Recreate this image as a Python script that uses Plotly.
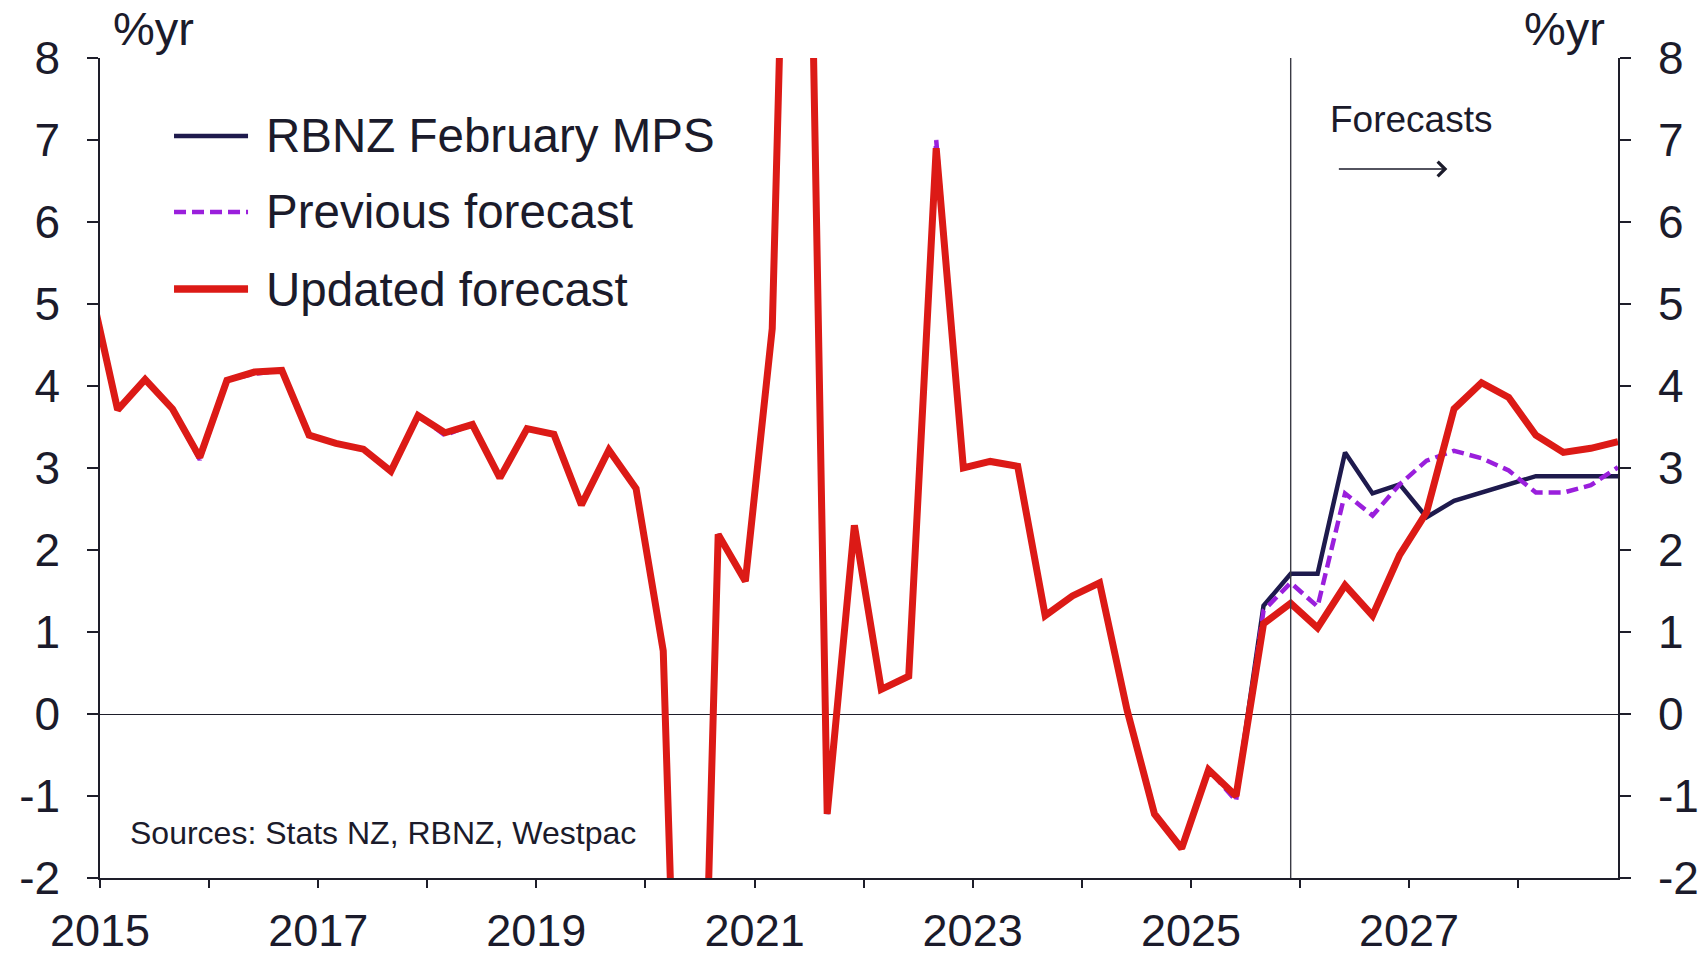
import pandas as pd
import plotly.graph_objects as go

# Quarterly dates (quarter-end month), Dec 2014 .. Dec 2028
quarters = pd.date_range("2014-12-01", "2028-12-01", freq="3MS")

updated_forecast = [5.19,
    3.71, 4.08, 3.72, 3.13,
    4.07, 4.17, 4.19, 3.40,
    3.30, 3.23, 2.96, 3.64,
    3.43, 3.53, 2.88, 3.48,
    3.41, 2.55, 3.22, 2.75,
    0.77, -10.0, 2.19, 1.62,
    4.70, 17.4, -1.22, 2.30,
    0.30, 0.46, 6.90, 3.00,
    3.08, 3.02, 1.20, 1.44,
    1.60, 0.05, -1.22, -1.64,
    -0.68, -1.00, 1.10, 1.35,
    1.05, 1.57, 1.20, 1.94,
    2.46, 3.72, 4.04, 3.86,
    3.40, 3.19, 3.24, 3.32]

rbnz_feb_mps = [5.19,
    3.71, 4.08, 3.72, 3.13,
    4.07, 4.17, 4.19, 3.40,
    3.30, 3.23, 2.96, 3.64,
    3.43, 3.53, 2.88, 3.48,
    3.41, 2.55, 3.22, 2.75,
    0.77, -10.0, 2.19, 1.62,
    4.70, 17.4, -1.22, 2.30,
    0.30, 0.46, 6.90, 3.00,
    3.08, 3.02, 1.20, 1.44,
    1.60, 0.05, -1.22, -1.64,
    -0.68, -1.00, 1.32, 1.71,
    1.71, 3.19, 2.69, 2.80,
    2.40, 2.60, 2.70, 2.80,
    2.90, 2.90, 2.90, 2.90]

previous_forecast = [5.19,
    3.71, 4.08, 3.72, 3.10,
    4.07, 4.15, 4.19, 3.40,
    3.30, 3.23, 2.96, 3.64,
    3.40, 3.53, 2.88, 3.48,
    3.41, 2.55, 3.22, 2.75,
    0.77, -10.0, 2.19, 1.62,
    4.70, 17.4, -1.22, 2.30,
    0.30, 0.46, 7.00, 3.00,
    3.08, 3.02, 1.20, 1.44,
    1.60, 0.05, -1.22, -1.64,
    -0.68, -1.06, 1.26, 1.60,
    1.31, 2.69, 2.42, 2.80,
    3.09, 3.21, 3.12, 2.97,
    2.70, 2.70, 2.79, 3.01]

series_names = ["RBNZ February MPS", "Previous forecast", "Updated forecast"]
y_ticks = [-2, -1, 0, 1, 2, 3, 4, 5, 6, 7, 8]
y_tick_labels = ["-2", "-1", "0", "1", "2", "3", "4", "5", "6", "7", "8"]
forecast_start = "2025-12-01"

NAVY = "#1E1A4D"
PURPLE = "#9A1FDC"
RED = "#DC1A16"
TEXT = "#1B1B2B"
AXIS = "#1E1E2A"
FONT = "Liberation Sans, Arial, sans-serif"

fig = go.Figure()
fig.add_trace(go.Scatter(x=quarters, y=rbnz_feb_mps, mode="lines", name=series_names[0],
                         line=dict(color=NAVY, width=4.5), showlegend=False))
fig.add_trace(go.Scatter(x=quarters, y=previous_forecast, mode="lines", name=series_names[1],
                         line=dict(color=PURPLE, width=4.5, dash="12px,6px"), showlegend=False))
fig.add_trace(go.Scatter(x=quarters, y=updated_forecast, mode="lines", name=series_names[2],
                         line=dict(color=RED, width=7), showlegend=False))
# right axis helper (invisible)
fig.add_trace(go.Scatter(x=[quarters[0]], y=[None], yaxis="y2", showlegend=False, hoverinfo="skip"))

yax = dict(range=[-2, 8], tickvals=y_ticks, ticktext=y_tick_labels, ticks="outside", ticklen=11,
           tickwidth=1.5, tickcolor=AXIS, showline=True, linecolor=AXIS, linewidth=1.5, showgrid=False,
           tickfont=dict(size=46, color=TEXT, family=FONT), ticklabelstandoff=18, automargin=False)

fig.update_layout(
    width=1708, height=956,
    margin=dict(l=100, r=90, t=58, b=78),
    paper_bgcolor="white", plot_bgcolor="white",
    font=dict(family=FONT, color=TEXT),
    xaxis=dict(type="date", range=["2015-01-01", "2028-12-01"], tick0="2015-01-01", dtick="M24",
               tickformat="%Y", ticks="outside", ticklen=8, tickwidth=1.5, tickcolor=AXIS,
               minor=dict(dtick="M12", tick0="2015-01-01", ticks="outside", ticklen=8, tickwidth=1.5, tickcolor=AXIS),
               showline=True, linecolor=AXIS, linewidth=1.5, showgrid=False, zeroline=False,
               tickfont=dict(size=45, color=TEXT, family=FONT), ticklabelstandoff=4, automargin=False),
    yaxis=dict(**yax, side="left", zeroline=True, zerolinecolor=AXIS, zerolinewidth=1.3),
    yaxis2=dict(**yax, side="right", overlaying="y", anchor="x", zeroline=False),
)

# forecast divider
fig.add_shape(type="line", x0=forecast_start, x1=forecast_start, xref="x", yref="paper", y0=0, y1=1,
              line=dict(color="#3A3A44", width=1.4))

# axis unit labels
fig.add_annotation(text="%yr", xref="paper", yref="paper", x=(153 - 100) / 1517.6, y=(878 - 29) / 820,
                   showarrow=False, font=dict(size=47, color=TEXT, family=FONT), xanchor="center", yanchor="middle")
fig.add_annotation(text="%yr", xref="paper", yref="paper", x=(1564 - 100) / 1517.6, y=(878 - 29) / 820,
                   showarrow=False, font=dict(size=47, color=TEXT, family=FONT), xanchor="center", yanchor="middle")

# Forecasts label and arrow
fig.add_annotation(text="Forecasts", xref="paper", yref="paper", x=(1328 - 100) / 1517.6, y=(878 - 120) / 820,
                   showarrow=False, font=dict(size=37, color=TEXT, family=FONT), xanchor="left", yanchor="middle")
fig.add_annotation(text="", xref="paper", yref="paper", axref="pixel", ayref="pixel",
                   x=(1447 - 100) / 1517.6, y=(878 - 169) / 820,
                   ax=-110, ay=0,
                   showarrow=True, arrowhead=4, arrowsize=2.2, arrowwidth=1.3, arrowcolor=TEXT)

# Sources
fig.add_annotation(text="Sources: Stats NZ, RBNZ, Westpac", xref="paper", yref="paper",
                   x=(128 - 100) / 1517.6, y=(878 - 833) / 820, showarrow=False,
                   font=dict(size=32, color=TEXT, family=FONT), xanchor="left", yanchor="middle")

# Custom legend
legend_rows = [(136, NAVY, 4.5, "solid"), (212, PURPLE, 4.5, "12px,6px"), (289, RED, 7.5, "solid")]
for name, (py, col, w, dash) in zip(series_names, legend_rows):
    yy = (878 - py) / 820
    fig.add_shape(type="line", xref="paper", yref="paper", x0=(174 - 100) / 1517.6, x1=(248 - 100) / 1517.6,
                  y0=yy, y1=yy, line=dict(color=col, width=w, dash=dash))
    fig.add_annotation(text=name, xref="paper", yref="paper", x=(264 - 100) / 1517.6, y=yy,
                       showarrow=False, font=dict(size=47.5, color=TEXT, family=FONT),
                       xanchor="left", yanchor="middle")

fig.write_html("out.html")
